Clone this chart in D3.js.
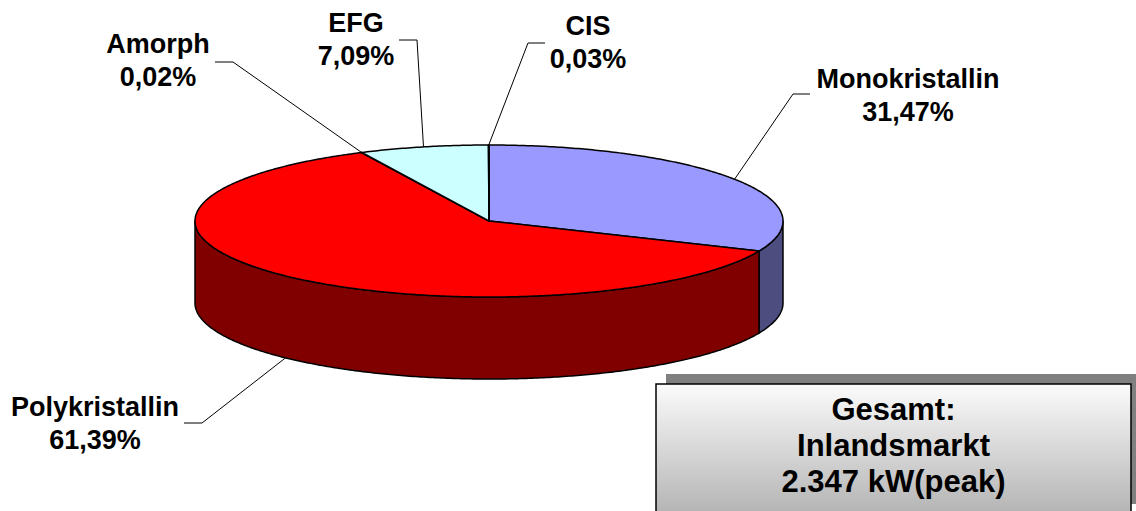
<!DOCTYPE html>
<html>
<head>
<meta charset="utf-8">
<title>Inlandsmarkt</title>
<script src="https://d3js.org/d3.v7.min.js"></script>
<style>
  body { margin: 0; background: #fff; }
  svg { display: block; font-family: 'Liberation Sans', Arial, sans-serif; }
  .label { font-size: 27px; font-weight: bold; text-anchor: middle; fill: #000; }
  .total { font-size: 31px; font-weight: bold; text-anchor: middle; fill: #000; }
  .leader { fill: none; stroke: #000; stroke-width: 1; }
</style>
</head>
<body>
<div id="chart"></div>
<script>
const categories = ['Monokristallin', 'Polykristallin', 'Amorph', 'EFG', 'CIS'];
const shares = [31.47, 61.39, 0.02, 7.09, 0.03];
const valueLabels = ['31,47%', '61,39%', '0,02%', '7,09%', '0,03%'];
const topColors = ['#9999ff', '#ff0000', '#ff0000', '#ccffff', '#9999ff'];
const sideColors = ['#4d4d80', '#800000', '#800000', '#668080', '#4d4d80'];
const totalLines = ['Gesamt:', 'Inlandsmarkt', '2.347 kW(peak)'];

const width = 1136, height = 511;
const cx = 489, cy = 221, rx = 294, ry = 76, depth = 82;

// label centre x, first baseline y, short leader stub (from -> to) at y
const labelLayout = [
  { x: 908, y: 88, s0: 810, s1: 793, sy: 94, bottom: false },
  { x: 95, y: 416, s0: 184, s1: 202, sy: 423, bottom: true },
  { x: 158, y: 53, s0: 215, s1: 233, sy: 62, bottom: false },
  { x: 356, y: 32, s0: 399, s1: 417, sy: 40, bottom: false },
  { x: 588, y: 35, s0: 545, s1: 528, sy: 43, bottom: false }
];

const svg = d3.select('#chart').append('svg')
  .attr('width', width)
  .attr('height', height);

const pie = d3.pie().sort(null).value(d => d.v);
const arcs = pie(shares.map((v, i) => ({ v, i })));

const px = a => cx + rx * Math.sin(a);
const py = a => cy - ry * Math.cos(a);

function arcPoints(a0, a1, dy) {
  const n = Math.max(2, Math.ceil(Math.abs(a1 - a0) / 0.01));
  const pts = [];
  for (let k = 0; k <= n; k++) {
    const a = a0 + (a1 - a0) * k / n;
    pts.push([px(a), py(a) + dy]);
  }
  return pts;
}

const line = d3.line();

// outer walls, only the front half (angles between PI/2 and 3PI/2) shows
const sides = svg.append('g');
arcs.forEach(d => {
  const a0 = Math.max(d.startAngle, Math.PI / 2);
  const a1 = Math.min(d.endAngle, 3 * Math.PI / 2);
  if (a1 <= a0) return;
  const pts = arcPoints(a0, a1, 0).concat(arcPoints(a1, a0, depth));
  sides.append('path')
    .attr('d', line(pts) + 'Z')
    .attr('fill', sideColors[d.data.i])
    .attr('stroke', '#000')
    .attr('stroke-width', 1.5)
    .attr('stroke-linejoin', 'round');
});

// top faces
const tops = svg.append('g');
arcs.forEach(d => {
  const pts = [[cx, cy]].concat(arcPoints(d.startAngle, d.endAngle, 0));
  tops.append('path')
    .attr('d', line(pts) + 'Z')
    .attr('fill', topColors[d.data.i])
    .attr('stroke', '#000')
    .attr('stroke-width', 1.5)
    .attr('stroke-linejoin', 'round');
});

// labels with leader lines
const labels = svg.append('g');
arcs.forEach(d => {
  const i = d.data.i;
  const L = labelLayout[i];
  const mid = (d.startAngle + d.endAngle) / 2;
  const end = [px(mid), py(mid) + (L.bottom ? depth : 0)];
  labels.append('path')
    .attr('class', 'leader')
    .attr('d', line([[L.s0, L.sy], [L.s1, L.sy], end]));
  const t = labels.append('text').attr('class', 'label');
  t.append('tspan').attr('x', L.x).attr('y', L.y).text(categories[i]);
  t.append('tspan').attr('x', L.x).attr('y', L.y + 33).text(valueLabels[i]);
});

// total box
const defs = svg.append('defs');
const grad = defs.append('linearGradient')
  .attr('id', 'boxGrad')
  .attr('x1', 0).attr('y1', 0).attr('x2', 0).attr('y2', 1);
grad.append('stop').attr('offset', '0%').attr('stop-color', '#fbfbfb');
grad.append('stop').attr('offset', '100%').attr('stop-color', '#b4b4b4');

const box = { x: 656, y: 384, w: 475, h: 130 };
svg.append('rect')
  .attr('x', box.x + 10).attr('y', box.y - 10)
  .attr('width', box.w).attr('height', box.h)
  .attr('fill', '#808080');
svg.append('rect')
  .attr('x', box.x).attr('y', box.y)
  .attr('width', box.w).attr('height', box.h)
  .attr('fill', 'url(#boxGrad)')
  .attr('stroke', '#000')
  .attr('stroke-width', 1.5);
svg.append('g').selectAll('text')
  .data(totalLines)
  .join('text')
  .attr('class', 'total')
  .attr('x', box.x + box.w / 2)
  .attr('y', (d, i) => 420 + i * 36)
  .text(d => d);
</script>
</body>
</html>
